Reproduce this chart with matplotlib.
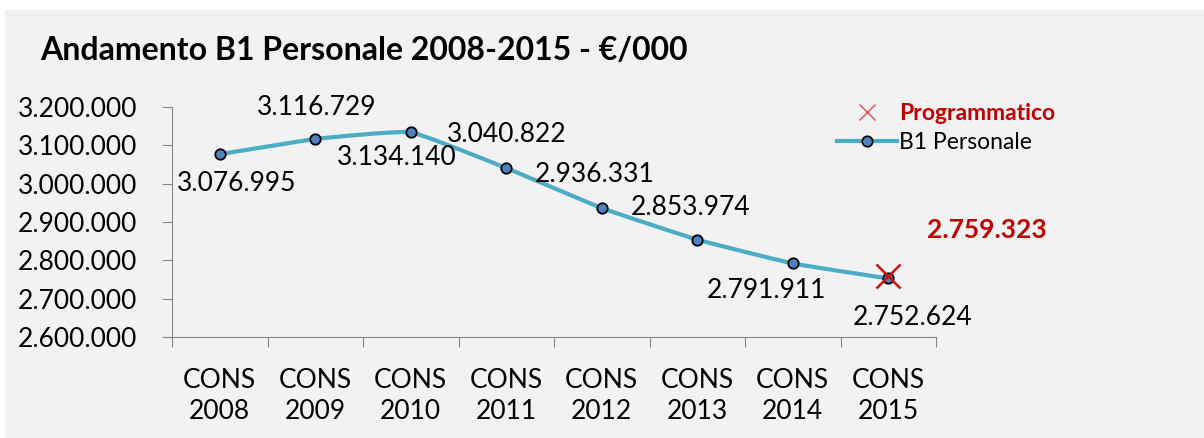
import numpy as np
import matplotlib
matplotlib.use("Agg")
import matplotlib.pyplot as plt
from matplotlib.lines import Line2D
from matplotlib.patches import Rectangle

plt.rcParams["font.family"] = ["Lato", "DejaVu Sans"]

categories = ["CONS\n2008", "CONS\n2009", "CONS\n2010", "CONS\n2011",
              "CONS\n2012", "CONS\n2013", "CONS\n2014", "CONS\n2015"]
values = [3076995, 3116729, 3134140, 3040822, 2936331, 2853974, 2791911, 2752624]
programmatico = 2759323
yticks = [2600000, 2700000, 2800000, 2900000, 3000000, 3100000, 3200000]

# label offsets in pixels (dx, dy) from each point
label_offsets = [(17, -29), (1, 31), (-14, -25), (0, 34),
                 (-7, 34), (-7, 32), (-26, -27), (24, -39)]


def fmt(v):
    return f"{v:,.0f}".replace(",", ".")


def smooth(xs, ys, n=30, k=0.35):
    # Catmull-Rom style curve like the Excel smoothed line (reduced tension)
    xs = np.asarray(xs, float)
    ys = np.asarray(ys, float)
    px = np.concatenate([[xs[0]], xs, [xs[-1]]])
    py = np.concatenate([[ys[0]], ys, [ys[-1]]])
    out_x, out_y = [], []
    t = np.linspace(0, 1, n)
    h00 = 2 * t ** 3 - 3 * t ** 2 + 1
    h10 = t ** 3 - 2 * t ** 2 + t
    h01 = -2 * t ** 3 + 3 * t ** 2
    h11 = t ** 3 - t ** 2
    for i in range(1, len(px) - 2):
        for p, out in ((px, out_x), (py, out_y)):
            m1 = k * 0.5 * (p[i + 1] - p[i - 1])
            m2 = k * 0.5 * (p[i + 2] - p[i])
            out.extend(h00 * p[i] + h10 * m1 + h01 * p[i + 1] + h11 * m2)
    return out_x, out_y


fig = plt.figure(figsize=(12.04, 4.38), dpi=100, facecolor="white")
fig.patches.append(Rectangle((5 / 1204, 0), 1 - 5 / 1204, 1 - 10 / 438,
                             transform=fig.transFigure, facecolor="#f2f2f2",
                             edgecolor="none", zorder=-10))

ax = fig.add_axes([172 / 1204, 1 - 337 / 438, (936 - 172) / 1204, (337 - 107) / 438])
ax.set_facecolor("none")

x = np.arange(len(values))
sx, sy = smooth(x, values)
ax.plot(sx, sy, color="#4bacc6", lw=3, solid_capstyle="round", zorder=2)
ax.plot(x, values, linestyle="none", marker="o", markersize=7.5,
        markerfacecolor="#4f81bd", markeredgecolor="black", markeredgewidth=1.3, zorder=3)
ax.plot([x[-1]], [programmatico], linestyle="none", marker="x", markersize=17,
        markeredgecolor="#d01010", markeredgewidth=1.8, zorder=4)

for xi, v, (dx, dy) in zip(x, values, label_offsets):
    ax.annotate(fmt(v), (xi, v), xytext=(dx, dy), textcoords="offset pixels",
                ha="center", va="center", fontsize=19, color="black")
ax.annotate(fmt(programmatico), (x[-1], programmatico), xytext=(99, 46),
            textcoords="offset pixels", ha="center", va="center",
            fontsize=19, color="#c00000", fontweight="bold")

ax.set_xlim(-0.5, len(values) - 0.5)
ax.set_ylim(yticks[0], yticks[-1])
ax.set_yticks(yticks)
ax.set_yticklabels([fmt(v) for v in yticks], fontsize=19)
ax.set_xticks(np.arange(len(values) + 1) - 0.5)
ax.set_xticklabels([])
ax.set_xticks(x, minor=True)
ax.set_xticklabels(categories, minor=True, fontsize=19, linespacing=1.3)
ax.tick_params(axis="x", which="minor", length=0, pad=22)
ax.tick_params(axis="x", which="major", length=7, color="#868686")
ax.tick_params(axis="y", length=7, color="#868686", pad=18)
for s in ("top", "right"):
    ax.spines[s].set_visible(False)
for s in ("left", "bottom"):
    ax.spines[s].set_color("#868686")
ax.spines["bottom"].set_bounds(-0.5 - 0.08, len(values) - 0.5)

fig.text(40 / 1204, 1 - 50 / 438, "Andamento B1 Personale 2008-2015 - \u20ac/000",
         fontsize=23, fontweight="bold", va="center", ha="left")

handles = [
    Line2D([], [], linestyle="none", marker="x", markersize=12,
           markeredgecolor="#e05050", markeredgewidth=1.0),
    Line2D([], [], color="#4bacc6", lw=3, marker="o", markersize=7.5,
           markerfacecolor="#4f81bd", markeredgecolor="black", markeredgewidth=1.2),
]
leg = fig.legend(handles, ["Programmatico", "B1 Personale"], loc="upper left",
                 bbox_to_anchor=(826 / 1204, 1 - 92 / 438), frameon=False,
                 fontsize=16.5, handlelength=2.6, handletextpad=0.1,
                 labelspacing=0.35, borderpad=0)
texts = leg.get_texts()
texts[0].set_color("#c00000")
texts[0].set_fontweight("bold")

fig.savefig("out.png", dpi=100, facecolor=fig.get_facecolor())
